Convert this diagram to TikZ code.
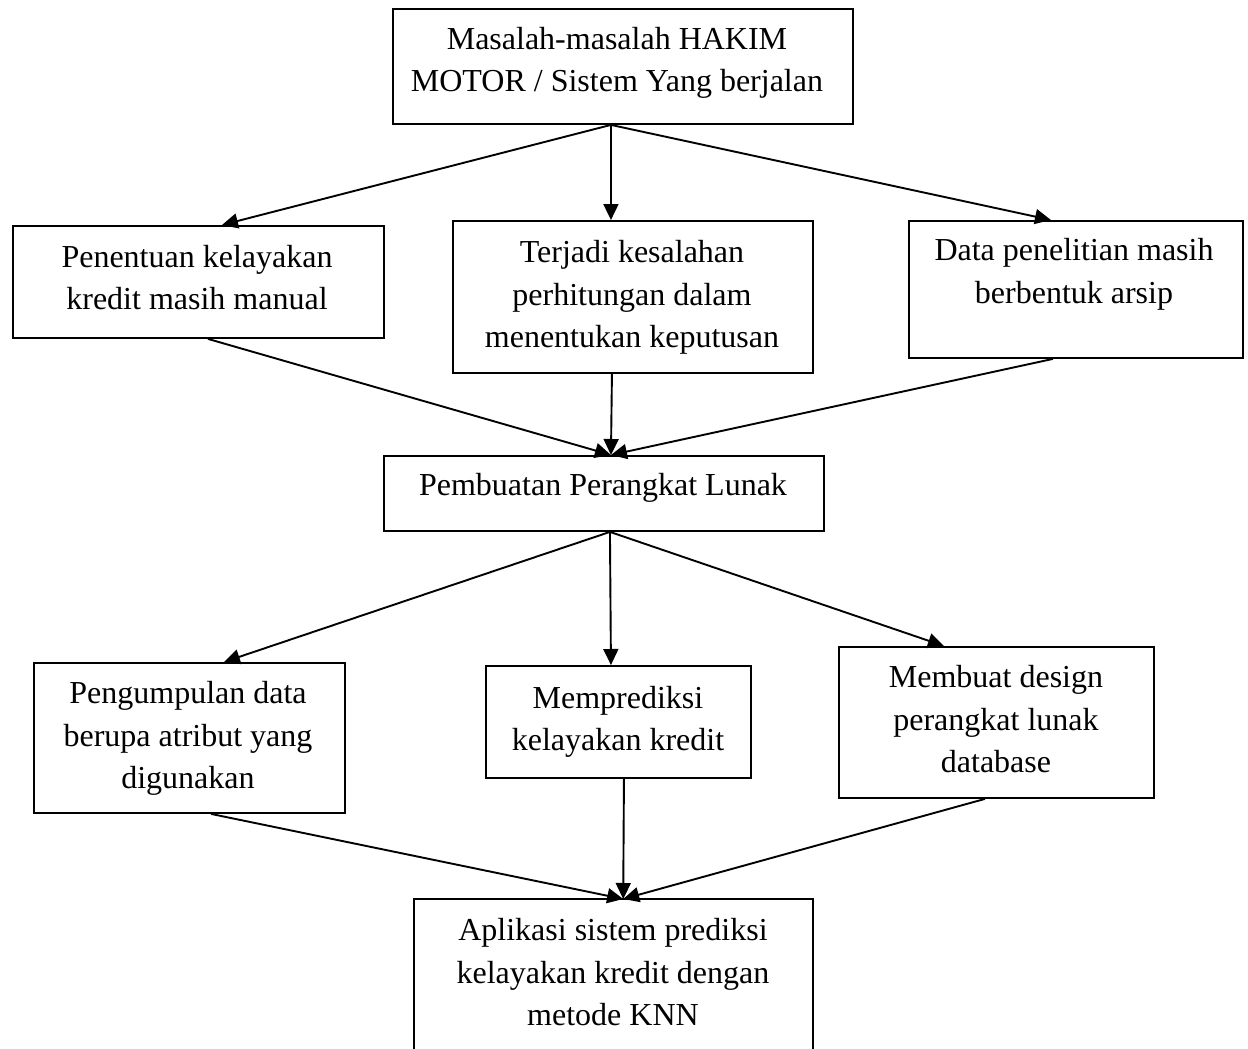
\documentclass[tikz,border=0pt]{standalone}
\usepackage{fontspec}
\setmainfont{Liberation Serif}
\usetikzlibrary{arrows.meta}
\begin{document}
\begin{tikzpicture}[x=1pt,y=-1pt,
  box/.style={draw, line width=1.9pt, inner sep=0pt, anchor=north west},
  openbox/.style={inner sep=0pt, anchor=north west},
  txt/.style={align=center, inner sep=0pt, anchor=north, font=\fontsize{32}{42.5}\selectfont},
  arr/.style={line width=1.9pt, -{Triangle[length=16pt,width=15pt]}}]
\useasboundingbox[fill=white] (0,0) rectangle (1248,1049);
% boxes
\node[box, minimum width=460pt, minimum height=115pt] (t0) at (392,8) {};
\node[box, minimum width=371pt, minimum height=112pt] (b2) at (12,225) {};
\node[box, minimum width=360pt, minimum height=152pt] (b3) at (452,220) {};
\node[box, minimum width=334pt, minimum height=137pt] (b4) at (908,220) {};
\node[box, minimum width=440pt, minimum height=75pt] (p) at (383,455) {};
\node[box, minimum width=311pt, minimum height=150pt] (c1) at (33,662) {};
\node[box, minimum width=265pt, minimum height=112pt] (c2) at (485,665) {};
\node[box, minimum width=315pt, minimum height=151pt] (c3) at (838,646) {};
\node[openbox, minimum width=399pt, minimum height=150pt] (ap) at (414,899) {};
\draw[line width=1.9pt] (ap.south west) -- (ap.north west) -- (ap.north east) -- (ap.south east);
% texts
\node[txt] (t0t) at (617,19.5) {\strut Masalah-masalah HAKIM\\\strut MOTOR / Sistem Yang berjalan};
\node[txt] (b2t) at (197,237.5) {\strut Penentuan kelayakan\\\strut kredit masih manual};
\node[txt] (b3t) at (632,233) {\strut Terjadi kesalahan\\\strut perhitungan dalam\\\strut menentukan keputusan};
\node[txt] (b4t) at (1074,231) {\strut Data penelitian masih\\\strut berbentuk arsip};
\node[txt] (pt) at (603,466) {\strut Pembuatan Perangkat Lunak};
\node[txt] (c1t) at (188,674) {\strut Pengumpulan data\\\strut berupa atribut yang\\\strut digunakan};
\node[txt] (c2t) at (618,678.5) {\strut Memprediksi\\\strut kelayakan kredit};
\node[txt] (c3t) at (996,657.75) {\strut Membuat design\\\strut perangkat lunak\\\strut database};
\node[txt] (apt) at (613,911) {\strut Aplikasi sistem prediksi\\\strut kelayakan kredit dengan\\\strut metode KNN};
% connectors
\draw[arr] ([xshift=-12pt]t0.south) -- ([xshift=23.5pt]b2.north);
\draw[arr] ([xshift=-12pt]t0.south) -- ([xshift=-22pt]b3.north);
\draw[arr] ([xshift=-12pt]t0.south) -- ([xshift=-25pt]b4.north);
\draw[arr] ([xshift=9.5pt]b2.south) -- ([xshift=7pt]p.north);
\draw[arr] ([xshift=-21pt]b3.south) -- ([xshift=7pt]p.north);
\draw[arr] ([xshift=-23pt]b4.south) -- ([xshift=7pt]p.north);
\draw[arr] ([xshift=6pt]p.south) -- ([xshift=34.5pt]c1.north);
\draw[arr] ([xshift=6pt]p.south) -- ([xshift=-7.5pt]c2.north);
\draw[arr] ([xshift=6pt]p.south) -- ([xshift=-52.5pt]c3.north);
\draw[arr] ([xshift=21.5pt]c1.south) -- ([xshift=9.5pt]ap.north);
\draw[arr] ([xshift=5.5pt]c2.south) -- ([xshift=9.5pt]ap.north);
\draw[arr] ([xshift=-11.5pt]c3.south) -- ([xshift=9.5pt]ap.north);
\end{tikzpicture}
\end{document}
